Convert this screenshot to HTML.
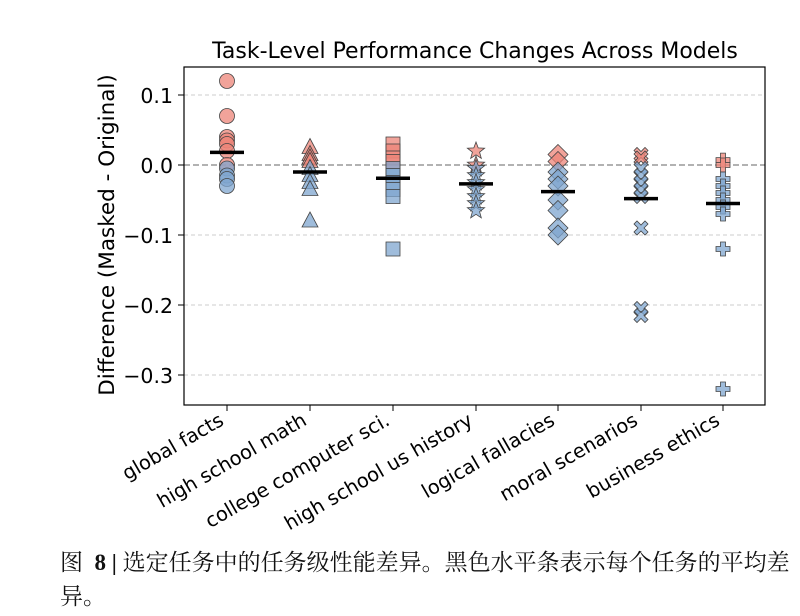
<!DOCTYPE html>
<html><head><meta charset="utf-8"><style>
body{margin:0;background:#fff;width:800px;height:616px;overflow:hidden}
svg{position:absolute;left:0;top:0}
.cap{position:absolute;left:60px;top:546px;width:740px;font:23px "Liberation Serif","Noto Serif CJK SC","Noto Sans CJK SC",serif;line-height:34px;color:#111}
</style></head><body>
<svg width="800" height="616" xmlns="http://www.w3.org/2000/svg" font-family="'DejaVu Sans','Liberation Sans',sans-serif">
<g stroke="#ccc" stroke-dasharray="4,3" stroke-width="1">
<line x1="184" x2="765" y1="95" y2="95"/><line x1="184" x2="765" y1="235" y2="235"/><line x1="184" x2="765" y1="305" y2="305"/><line x1="184" x2="765" y1="375" y2="375"/>
</g>
<line x1="184" x2="765" y1="165" y2="165" stroke="#666" stroke-dasharray="6,3"/>
<g id="pts" stroke="#444" stroke-width="0.8"></g>
<g id="means" stroke="#000" stroke-width="3.5"></g>
<rect x="184" y="67" width="581" height="338" fill="none" stroke="#000" stroke-width="1.2"/>
<text x="475" y="58" font-size="22" text-anchor="middle">Task-Level Performance Changes Across Models</text>
<text transform="translate(114,235) rotate(-90)" font-size="21.5" text-anchor="middle">Difference (Masked - Original)</text>
<g font-size="20.5" text-anchor="end">
<text x="173" y="103">0.1</text><text x="173" y="173">0.0</text><text x="173" y="243">−0.1</text><text x="173" y="313">−0.2</text><text x="173" y="383">−0.3</text>
</g>
<g stroke="#000"><line x1="178" x2="184" y1="95" y2="95"/><line x1="178" x2="184" y1="165" y2="165"/><line x1="178" x2="184" y1="235" y2="235"/><line x1="178" x2="184" y1="305" y2="305"/><line x1="178" x2="184" y1="375" y2="375"/></g>
<g id="xl" font-size="19.5" text-anchor="end"></g>
</svg>
<div class="cap">图 &nbsp;<b>8 |</b> 选定任务中的任务级性能差异。黑色水平条表示每个任务的平均差异。</div>
<script>
const X=[227,310,393,476,558,641,723];
const names=["global facts","high school math","college computer sci.","high school us history","logical fallacies","moral scenarios","business ethics"];
const D=[
[[.12,.07,.04,.035,.03,.02,.0],[-.005,-.015,-.02,-.03],.018],
[[.025,.015,.01,.005],[-.005,-.015,-.025,-.035,-.08],-.01],
[[.03,.02,.01,.005],[-.005,-.015,-.025,-.035,-.045,-.12],-.019],
[[.02,.0],[-.005,-.015,-.025,-.035,-.045,-.055,-.065],-.027],
[[.015,.005],[-.01,-.02,-.03,-.05,-.065,-.09,-.1],-.038],
[[.015,.01],[-.005,-.015,-.025,-.035,-.045,-.09,-.205,-.215],-.048],
[[.007,.0],[-.02,-.03,-.04,-.05,-.06,-.07,-.12,-.32],-.055]];
const Y=v=>165-v*700;
function shape(i,x,y){
 switch(i){
 case 0:return `<circle cx="${x}" cy="${y}" r="7.5"/>`;
 case 1:return `<polygon points="${x},${y-9} ${x+8},${y+6} ${x-8},${y+6}"/>`;
 case 2:return `<rect x="${x-7}" y="${y-7}" width="14" height="14"/>`;
 case 3:{let p=[];for(let k=0;k<10;k++){let r=k%2?3.8:9,a=-Math.PI/2+k*Math.PI/5;p.push((x+r*Math.cos(a)).toFixed(1)+","+(y+r*Math.sin(a)).toFixed(1));}return `<polygon points="${p.join(" ")}"/>`;}
 case 4:return `<polygon points="${x},${y-10} ${x+10},${y} ${x},${y+10} ${x-10},${y}"/>`;
 case 5:return `<polygon points="${x-7},${y-4} ${x-4},${y-7} ${x},${y-3} ${x+4},${y-7} ${x+7},${y-4} ${x+3},${y} ${x+7},${y+4} ${x+4},${y+7} ${x},${y+3} ${x-4},${y+7} ${x-7},${y+4} ${x-3},${y}"/>`;
 case 6:return `<polygon points="${x-2.5},${y-7} ${x+2.5},${y-7} ${x+2.5},${y-2.5} ${x+7},${y-2.5} ${x+7},${y+2.5} ${x+2.5},${y+2.5} ${x+2.5},${y+7} ${x-2.5},${y+7} ${x-2.5},${y+2.5} ${x-7},${y+2.5} ${x-7},${y-2.5} ${x-2.5},${y-2.5}"/>`;
 }}
let s="",m="",xl="";
D.forEach((d,i)=>{
 d[0].forEach(v=>s+=`<g fill="#ec8478" fill-opacity="0.75">${shape(i,X[i],Y(v))}</g>`);
 d[1].forEach(v=>s+=`<g fill="#7fa6cf" fill-opacity="0.75">${shape(i,X[i],Y(v))}</g>`);
 m+=`<line x1="${X[i]-17}" x2="${X[i]+17}" y1="${Y(d[2])}" y2="${Y(d[2])}"/>`;
 xl+=`<line x1="${X[i]}" x2="${X[i]}" y1="405" y2="411" stroke="#000"/><text transform="translate(${X[i]-2},${424}) rotate(-30)">${names[i]}</text>`;
});
document.getElementById("pts").innerHTML=s;
document.getElementById("means").innerHTML=m;
document.getElementById("xl").innerHTML=xl;
</script>
</body></html>
